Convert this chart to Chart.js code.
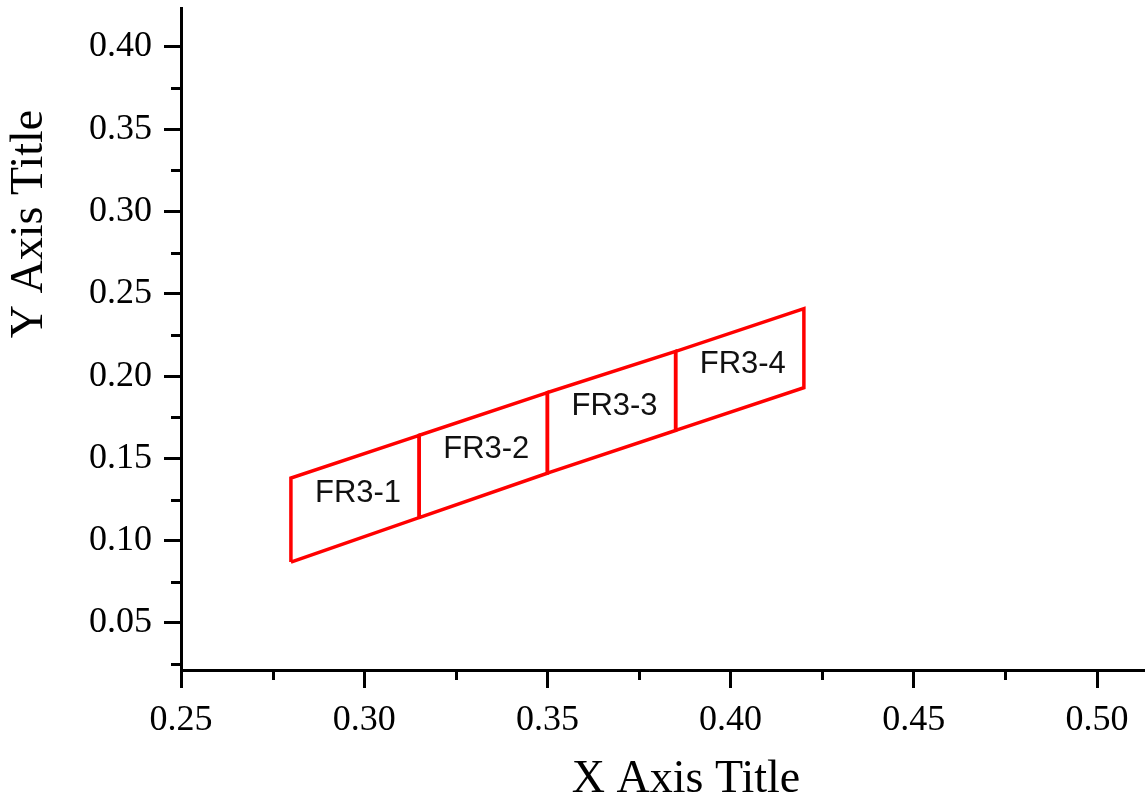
<!DOCTYPE html>
<html>
<head>
<meta charset="utf-8">
<script src="https://cdn.jsdelivr.net/npm/chart.js@4.4.1/dist/chart.umd.min.js"></script>
<style>
  html, body { margin: 0; padding: 0; background: #ffffff; }
  #wrap { width: 1145px; height: 803px; }
</style>
</head>
<body>
<div id="wrap"><canvas id="c" width="1145" height="803"></canvas></div>
<script>
// ---- data ----
const xEdges  = [0.28, 0.315, 0.35, 0.385, 0.42];
const yTop    = [0.138, 0.164, 0.190, 0.215, 0.241];
const yBottom = [0.087, 0.114, 0.141, 0.167, 0.193];
const regionNames = ['FR3-1', 'FR3-2', 'FR3-3', 'FR3-4'];
const xTickValues = [0.25, 0.30, 0.35, 0.40, 0.45, 0.50];
const yTickValues = [0.05, 0.10, 0.15, 0.20, 0.25, 0.30, 0.35, 0.40];
const xRange = [0.25, 0.5131];
const yRange = [0.0214, 0.4237];
const xTitle = 'X Axis Title';
const yTitle = 'Y Axis Title';

// one closed quadrilateral per region
const datasets = regionNames.map((name, i) => ({
  label: name,
  data: [
    { x: xEdges[i],     y: yBottom[i] },
    { x: xEdges[i],     y: yTop[i] },
    { x: xEdges[i + 1], y: yTop[i + 1] },
    { x: xEdges[i + 1], y: yBottom[i + 1] },
    { x: xEdges[i],     y: yBottom[i] }
  ],
  showLine: true,
  borderColor: '#ff0000',
  borderWidth: 3.5,
  pointRadius: 0,
  fill: false,
  tension: 0
}));

const serif = '"Liberation Serif", "Times New Roman", serif';

const extrasPlugin = {
  id: 'extras',
  afterDraw(chart) {
    const ctx = chart.ctx;
    const xs = chart.scales.x, ys = chart.scales.y;
    const area = chart.chartArea;
    ctx.save();
    // minor ticks
    ctx.strokeStyle = '#000';
    ctx.lineWidth = 3;
    ctx.beginPath();
    for (let v = xTickValues[0] + 0.025; v <= xRange[1] + 1e-9; v += 0.05) {
      const px = Math.round(xs.getPixelForValue(v)) + 0.5;
      ctx.moveTo(px, area.bottom);
      ctx.lineTo(px, area.bottom + 10);
    }
    for (let v = yTickValues[0] - 0.025; v <= yRange[1] + 1e-9; v += 0.05) {
      if (v < yRange[0]) continue;
      const py = Math.round(ys.getPixelForValue(v)) + 0.5;
      ctx.moveTo(area.left, py);
      ctx.lineTo(area.left - 10, py);
    }
    ctx.stroke();

    // region labels near each quadrilateral's centroid
    ctx.fillStyle = '#111';
    ctx.font = '31px "Liberation Sans", Arial, sans-serif';
    ctx.textAlign = 'center';
    ctx.textBaseline = 'middle';
    regionNames.forEach((name, i) => {
      const cx = (xEdges[i] + xEdges[i + 1]) / 2;
      const cy = (yTop[i] + yTop[i + 1] + yBottom[i] + yBottom[i + 1]) / 4;
      ctx.fillText(name, xs.getPixelForValue(cx) + 3, ys.getPixelForValue(cy) - 5);
    });

    // axis titles
    ctx.fillStyle = '#000';
    ctx.font = '46px ' + serif;
    ctx.textAlign = 'center';
    ctx.textBaseline = 'middle';
    ctx.fillText(xTitle, 686, 780);
    ctx.translate(30, 224);
    ctx.rotate(-Math.PI / 2);
    ctx.fillText(yTitle, 0, 0);
    ctx.restore();
  }
};

new Chart(document.getElementById('c'), {
  type: 'scatter',
  data: { datasets },
  options: {
    responsive: false,
    devicePixelRatio: 1,
    animation: false,
    layout: { padding: { top: 8, right: 0, left: 0, bottom: 0 } },
    plugins: { legend: { display: false }, tooltip: { enabled: false } },
    scales: {
      x: {
        type: 'linear',
        min: xRange[0],
        max: xRange[1],
        afterFit(scale) { scale.height = 133; scale.paddingLeft = 0; scale.paddingRight = 0; },
        afterBuildTicks(scale) { scale.ticks = xTickValues.map(v => ({ value: v })); },
        grid: { drawOnChartArea: false, drawTicks: true, tickLength: 18, tickWidth: 3, tickColor: '#000' },
        border: { display: true, color: '#000', width: 3 },
        ticks: {
          padding: 11,
          color: '#000',
          font: { family: serif, size: 36 },
          maxRotation: 0,
          callback: v => v.toFixed(2)
        }
      },
      y: {
        type: 'linear',
        min: yRange[0],
        max: yRange[1],
        afterFit(scale) { scale.width = 181; scale.paddingTop = 0; scale.paddingBottom = 0; },
        afterBuildTicks(scale) { scale.ticks = yTickValues.map(v => ({ value: v })); },
        grid: { drawOnChartArea: false, drawTicks: true, tickLength: 17, tickWidth: 3, tickColor: '#000' },
        border: { display: true, color: '#000', width: 3 },
        ticks: {
          padding: 12,
          color: '#000',
          font: { family: serif, size: 36 },
          callback: v => v.toFixed(2)
        }
      }
    }
  },
  plugins: [extrasPlugin]
});
</script>
</body>
</html>
